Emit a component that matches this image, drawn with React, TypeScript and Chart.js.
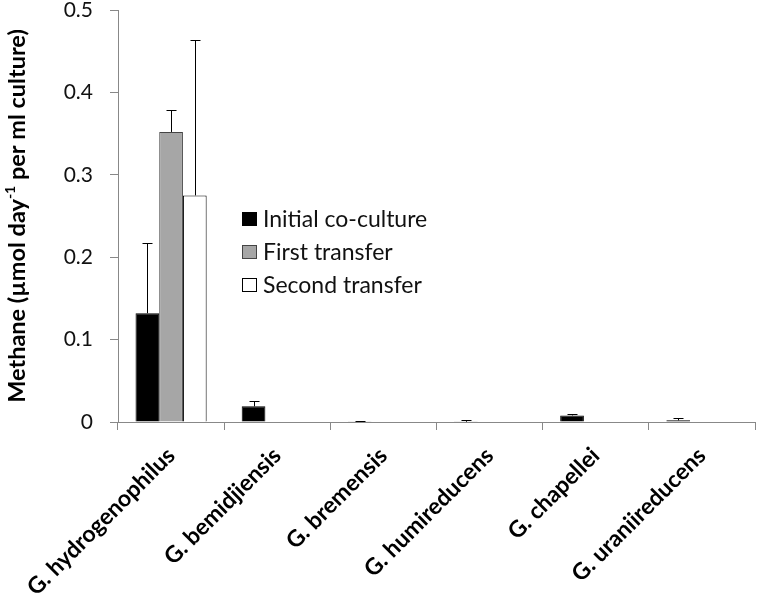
import React, { useEffect, useRef } from 'react';
import { Chart, registerables } from 'chart.js';

Chart.register(...registerables);

const categories = [
    'G. hydrogenophilus',
    'G. bemidjiensis',
    'G. bremensis',
    'G. humireducens',
    'G. chapellei',
    'G. uraniireducens'
];

const initialValues = [0.132, 0.019, 0.0003, 0.0003, 0.008, 0.002];
const initialErrors = [0.085, 0.006, 0.0007, 0.0017, 0.0015, 0.0025];
const firstValues = [0.352, null, null, null, null, null];
const firstErrors = [0.027, 0, 0, 0, 0, 0];
const secondValues = [0.275, null, null, null, null, null];
const secondErrors = [0.188, 0, 0, 0, 0, 0];

const yTicks = [0, 0.1, 0.2, 0.3, 0.4, 0.5];

const FONT = 'Lato, "Open Sans", sans-serif';

// upper error bars with caps
const errorBarPlugin = {
    id: 'errorBars',
    afterDatasetsDraw(chart: any) {
        const ctx = chart.ctx;
        const yScale = chart.scales.y;
        ctx.save();
        ctx.strokeStyle = '#000';
        ctx.lineWidth = 1;
        chart.data.datasets.forEach((ds: any, i: number) => {
            const meta = chart.getDatasetMeta(i);
            meta.data.forEach((bar: any, j: number) => {
                const v = ds.data[j];
                const err = ds.errorValues ? ds.errorValues[j] : 0;
                if (v === null || v === undefined || !err) return;
                const yTop = Math.round(yScale.getPixelForValue(v + err)) + 0.5;
                const yBase = yScale.getPixelForValue(v);
                const x = Math.round(bar.x) + 0.5;
                ctx.beginPath();
                ctx.moveTo(x, yBase);
                ctx.lineTo(x, yTop);
                ctx.moveTo(x - 5, yTop);
                ctx.lineTo(x + 5, yTop);
                ctx.stroke();
            });
        });
        ctx.restore();
    }
};

// legend drawn inside the plot area + y axis title with superscript
const decorPlugin = {
    id: 'decor',
    afterDraw(chart: any) {
        const ctx = chart.ctx;
        const area = chart.chartArea;
        ctx.save();

        const lx = area.left + 124;
        let ly = area.top + 209;
        ctx.font = '23px ' + FONT;
        ctx.textBaseline = 'middle';
        ctx.textAlign = 'left';
        chart.data.datasets.forEach((ds: any) => {
            ctx.fillStyle = ds.backgroundColor;
            ctx.fillRect(lx, ly - 7, 15, 14);
            ctx.strokeStyle = ds.borderColor;
            ctx.lineWidth = 1;
            ctx.strokeRect(lx + 0.5, ly - 6.5, 14, 13);
            ctx.fillStyle = '#111';
            ctx.fillText(ds.label, lx + 21, ly + 1);
            ly += 33;
        });

        // y title
        const parts = [
            { text: 'Methane (µmol day', sup: false },
            { text: '-1', sup: true },
            { text: ' per ml culture)', sup: false }
        ];
        const big = 'bold 23.5px ' + FONT;
        const small = 'bold 14px ' + FONT;
        let total = 0;
        parts.forEach(p => {
            ctx.font = p.sup ? small : big;
            total += ctx.measureText(p.text).width;
        });
        const cy = (area.top + area.bottom) / 2;
        ctx.translate(17, cy);
        ctx.rotate(-Math.PI / 2);
        ctx.fillStyle = '#000';
        ctx.textBaseline = 'middle';
        let x = -total / 2;
        parts.forEach(p => {
            ctx.font = p.sup ? small : big;
            ctx.fillText(p.text, x, p.sup ? -7 : 0);
            x += ctx.measureText(p.text).width;
        });
        ctx.restore();
    }
};

const App: React.FC = () => {
    const canvasRef = useRef<HTMLCanvasElement | null>(null);
    const chartRef = useRef<Chart | null>(null);

    useEffect(() => {
        if (!canvasRef.current) return;
        const ctx = canvasRef.current.getContext('2d');
        if (!ctx) return;
        if (chartRef.current) chartRef.current.destroy();

        chartRef.current = new Chart(ctx, {
            type: 'bar',
            data: {
                labels: categories,
                datasets: [
                    {
                        label: 'Initial co-culture',
                        data: initialValues,
                        errorValues: initialErrors,
                        backgroundColor: '#000000',
                        borderColor: '#000000',
                        borderWidth: 1
                    },
                    {
                        label: 'First transfer',
                        data: firstValues,
                        errorValues: firstErrors,
                        backgroundColor: '#a6a6a6',
                        borderColor: '#444444',
                        borderWidth: 1
                    },
                    {
                        label: 'Second transfer',
                        data: secondValues,
                        errorValues: secondErrors,
                        backgroundColor: '#ffffff',
                        borderColor: '#000000',
                        borderWidth: 1
                    }
                ] as any
            },
            options: {
                responsive: true,
                maintainAspectRatio: false,
                animation: false,
                layout: { padding: { top: 10, right: 3, left: 0, bottom: 0 } },
                datasets: {
                    bar: { categoryPercentage: 0.67, barPercentage: 1 }
                },
                scales: {
                    x: {
                        offset: true,
                        grid: {
                            offset: true,
                            drawOnChartArea: false,
                            tickLength: 8,
                            color: '#888888'
                        },
                        border: { color: '#888888' },
                        ticks: {
                            autoSkip: false,
                            maxRotation: 45,
                            minRotation: 45,
                            padding: 12,
                            color: '#000',
                            font: { family: FONT, size: 23, weight: 'bold' }
                        },
                        afterFit: (scale: any) => {
                            scale.height = 180;
                            scale.paddingLeft = 0;
                            scale.paddingRight = 0;
                        }
                    },
                    y: {
                        min: 0,
                        max: 0.5,
                        grid: {
                            drawOnChartArea: false,
                            tickLength: 8,
                            color: '#888888'
                        },
                        border: { color: '#888888' },
                        afterBuildTicks: (scale: any) => {
                            scale.ticks = yTicks.map(v => ({ value: v }));
                        },
                        ticks: {
                            padding: 17,
                            color: '#111',
                            font: { family: FONT, size: 21 },
                            callback: (v: any) => String(Number(Number(v).toFixed(1)))
                        },
                        afterFit: (scale: any) => {
                            scale.width = 118;
                            scale.paddingTop = 0;
                            scale.paddingBottom = 0;
                        }
                    }
                },
                plugins: {
                    legend: { display: false },
                    tooltip: { enabled: false }
                }
            },
            plugins: [errorBarPlugin, decorPlugin]
        });

        return () => {
            if (chartRef.current) {
                chartRef.current.destroy();
                chartRef.current = null;
            }
        };
    }, []);

    return (
        <div style={{ position: 'absolute', left: 0, top: 0, width: 758, height: 602, background: '#fff' }}>
            <canvas ref={canvasRef}></canvas>
        </div>
    );
};

export default App;
